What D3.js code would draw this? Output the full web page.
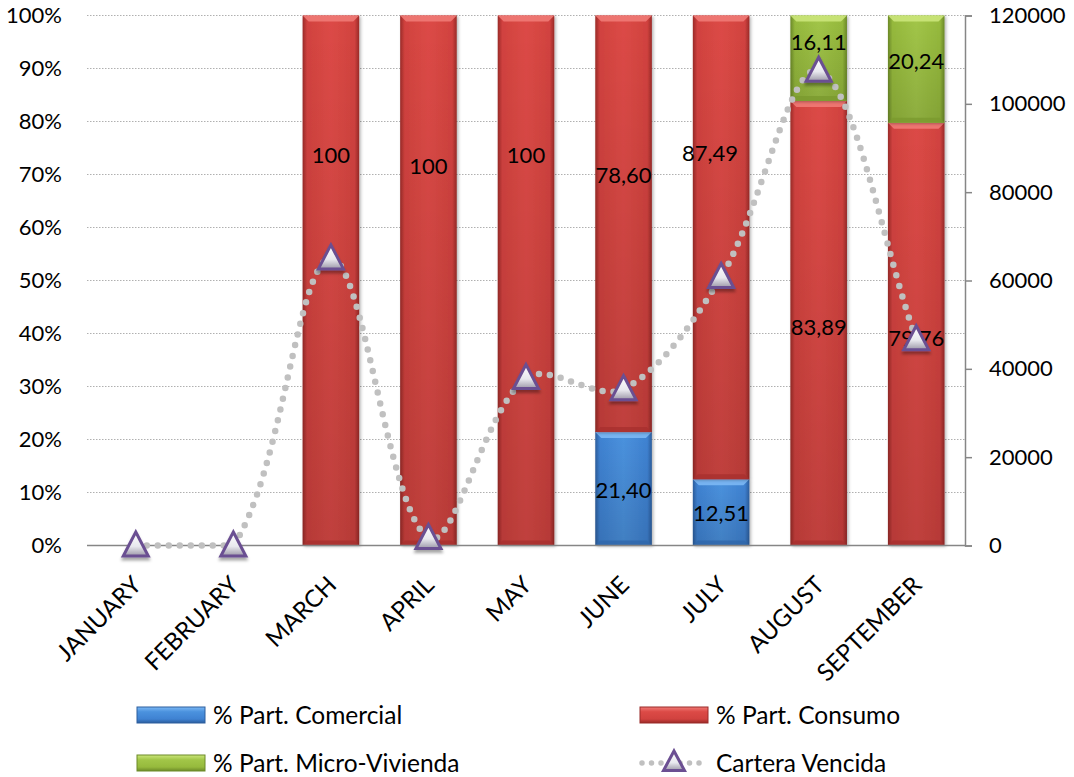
<!DOCTYPE html>
<html>
<head>
<meta charset="utf-8">
<script src="https://cdn.jsdelivr.net/npm/d3@7"></script>
<style>
  html, body { margin: 0; padding: 0; background: #fff; }
  svg { display: block; font-family: Lato, "Liberation Sans", sans-serif; }
</style>
</head>
<body>
<svg id="chart" width="1074" height="777"></svg>
<script>
// ---------- data ----------
const months = ["JANUARY", "FEBRUARY", "MARCH", "APRIL", "MAY", "JUNE", "JULY", "AUGUST", "SEPTEMBER"];
const comercial     = [0, 0, 0, 0, 0, 21.40, 12.51, 0, 0];
const consumo       = [0, 0, 100, 100, 100, 78.60, 87.49, 83.89, 79.76];
const microVivienda = [0, 0, 0, 0, 0, 0, 0, 16.11, 20.24];
const carteraVencida = [0, 0, 65000, 1700, 37900, 35400, 60800, 107500, 46700];
const leftTicks  = [0, 10, 20, 30, 40, 50, 60, 70, 80, 90, 100];
const rightTicks = [0, 20000, 40000, 60000, 80000, 100000, 120000];
const seriesNames = ["% Part. Comercial", "% Part. Consumo", "% Part. Micro-Vivienda", "Cartera Vencida"];

// label anchor heights (in % units) as placed in the original chart
const labelAtComercial = [0, 0, 0, 0, 0, 10.4, 6.1, 0, 0];
const labelAtConsumo   = [0, 0, 73.7, 71.6, 73.7, 69.9, 74.1, 41.2, 39.2];
const labelAtMicro     = [0, 0, 0, 0, 0, 0, 0, 95.0, 91.4];
const labelShiftConsumo = [0, 0, 0, 0, 0, 0, -11, 0, 0];

// ---------- setup ----------
const svg = d3.select("#chart");
const plot = { left: 87, right: 965, top: 15.5, bottom: 545.5 };

const x = d3.scaleBand().domain(months).range([plot.left, plot.right])
  .paddingInner(0.42).paddingOuter(0.21);
const y = d3.scaleLinear().domain([0, 100]).range([plot.bottom, plot.top]);
const y2 = d3.scaleLinear().domain([0, 120000]).range([plot.bottom, plot.top]);

const locale = d3.formatLocale({ decimal: ",", thousands: ".", grouping: [3], currency: ["", ""] });
const f2 = locale.format(".2f");
const fmt = v => Number.isInteger(v) ? String(v) : f2(v);

// ---------- defs ----------
const defs = svg.append("defs");
const palettes = {
  blue:  { edge: "#2c5e9e", base: "#3f82d2", mid: "#4b92de", top: "#7cb8f4", bot: "#2f66aa" },
  red:   { edge: "#9a2a28", base: "#d1423f", mid: "#dc4a46", top: "#f07a76", bot: "#a8302e" },
  green: { edge: "#6c8a28", base: "#96ba3d", mid: "#a2c648", top: "#cbe67a", bot: "#7b9a2e" }
};
Object.entries(palettes).forEach(([k, p]) => {
  const g = defs.append("linearGradient").attr("id", "grad-" + k)
    .attr("x1", 0).attr("x2", 1).attr("y1", 0).attr("y2", 0);
  [[0, p.edge], [0.08, p.base], [0.5, p.mid], [0.92, p.base], [1, p.edge]]
    .forEach(([o, c]) => g.append("stop").attr("offset", o).attr("stop-color", c));
});
const shade = defs.append("linearGradient").attr("id", "shade")
  .attr("x1", 0).attr("x2", 0).attr("y1", 0).attr("y2", 1);
shade.append("stop").attr("offset", 0).attr("stop-color", "#000").attr("stop-opacity", 0);
shade.append("stop").attr("offset", 1).attr("stop-color", "#000").attr("stop-opacity", 0.13);

const mg = defs.append("linearGradient").attr("id", "grad-marker")
  .attr("x1", 0).attr("x2", 0).attr("y1", 0).attr("y2", 1);
mg.append("stop").attr("offset", 0).attr("stop-color", "#ffffff");
mg.append("stop").attr("offset", 0.6).attr("stop-color", "#e8e8ee");
mg.append("stop").attr("offset", 1).attr("stop-color", "#9c98a8");
const sh = defs.append("filter").attr("id", "shadow").attr("x", "-50%").attr("y", "-50%")
  .attr("width", "200%").attr("height", "200%");
sh.append("feDropShadow").attr("dx", 0).attr("dy", 3).attr("stdDeviation", 1.8)
  .attr("flood-color", "#000").attr("flood-opacity", 0.35);
const bsh = defs.append("filter").attr("id", "barshadow").attr("x", "-20%").attr("y", "-5%")
  .attr("width", "140%").attr("height", "110%");
bsh.append("feDropShadow").attr("dx", 1.5).attr("dy", 1).attr("stdDeviation", 1.5)
  .attr("flood-color", "#000").attr("flood-opacity", 0.3);

// ---------- gridlines ----------
svg.append("g").selectAll("line").data(leftTicks.filter(t => t > 0)).join("line")
  .attr("x1", plot.left).attr("x2", plot.right)
  .attr("y1", d => y(d)).attr("y2", d => y(d))
  .attr("stroke", "#b0b0b0").attr("stroke-width", 1).attr("stroke-dasharray", "1.5,1.5");

// ---------- left axis ----------
const gl = svg.append("g").attr("transform", `translate(${plot.left},0)`)
  .call(d3.axisLeft(y).tickValues(leftTicks).tickFormat(d => d + "%").tickSize(0).tickPadding(25));
gl.select(".domain").remove();
gl.selectAll("text").attr("font-size", 22).attr("font-family", "Lato, sans-serif").attr("fill", "#000");

// ---------- right axis ----------
const gr = svg.append("g").attr("transform", `translate(${plot.right},0)`)
  .call(d3.axisRight(y2).tickValues(rightTicks).tickFormat(d3.format("d")).tickSize(7).tickPadding(17));
gr.select(".domain").attr("stroke", "#868686").attr("stroke-width", 1.5);
gr.selectAll(".tick line").attr("stroke", "#868686").attr("stroke-width", 1.5);
gr.selectAll("text").attr("font-size", 22).attr("font-family", "Lato, sans-serif").attr("fill", "#000");

// ---------- stacked bars ----------
const stackInput = months.map((m, i) => ({
  month: m, comercial: comercial[i], consumo: consumo[i], micro: microVivienda[i]
}));
const keys = ["comercial", "consumo", "micro"];
const colorKey = { comercial: "blue", consumo: "red", micro: "green" };
const stacked = d3.stack().keys(keys)(stackInput);

const bw = x.bandwidth();
const bars = svg.append("g");
stacked.forEach(layer => {
  const k = layer.key, p = palettes[colorKey[k]];
  const segs = layer.filter(d => d[1] - d[0] > 0);
  const g = bars.append("g");
  g.selectAll("rect.body").data(segs).join("rect")
    .attr("class", "body")
    .attr("x", d => x(d.data.month)).attr("width", bw)
    .attr("y", d => y(d[1])).attr("height", d => y(d[0]) - y(d[1]))
    .attr("fill", `url(#grad-${colorKey[k]})`)
    .attr("filter", "url(#barshadow)");
  g.selectAll("rect.shade").data(segs).join("rect")
    .attr("class", "shade")
    .attr("x", d => x(d.data.month)).attr("width", bw)
    .attr("y", d => y(d[1])).attr("height", d => y(d[0]) - y(d[1]))
    .attr("fill", "url(#shade)");
  // top bevel
  g.selectAll("path.bevel").data(segs).join("path")
    .attr("class", "bevel")
    .attr("d", d => {
      const x0 = x(d.data.month), x1 = x0 + bw, t = y(d[1]), b = 6;
      return `M${x0},${t}L${x1},${t}L${x1 - b},${t + b}L${x0 + b},${t + b}Z`;
    })
    .attr("fill", p.top).attr("opacity", 0.9);
  // bottom bevel
  g.selectAll("path.bbevel").data(segs).join("path")
    .attr("class", "bbevel")
    .attr("d", d => {
      const x0 = x(d.data.month), x1 = x0 + bw, bt = y(d[0]), b = 5;
      return `M${x0},${bt}L${x1},${bt}L${x1 - b},${bt - b}L${x0 + b},${bt - b}Z`;
    })
    .attr("fill", p.bot).attr("opacity", 0.8);
});

// ---------- x axis baseline & labels ----------
svg.append("line").attr("x1", plot.left).attr("x2", plot.right)
  .attr("y1", plot.bottom).attr("y2", plot.bottom)
  .attr("stroke", "#868686").attr("stroke-width", 1.5);

svg.append("g").selectAll("text").data(months).join("text")
  .attr("transform", d => `translate(${x(d) + bw / 2 + 7},${plot.bottom + 41}) rotate(-45)`)
  .attr("text-anchor", "end")
  .attr("font-size", 24).attr("fill", "#000")
  .text(d => d);

// ---------- data labels ----------
const labels = svg.append("g").attr("font-size", 22).attr("fill", "#000").attr("text-anchor", "middle");
function addLabels(vals, at, shift) {
  labels.selectAll(null).data(months.map((m, i) => ({ m, v: vals[i], a: at[i], s: shift ? shift[i] : 0 }))
      .filter(d => d.v > 0))
    .join("text")
    .attr("x", d => x(d.m) + bw / 2 + d.s)
    .attr("y", d => y(d.a))
    .attr("dy", "0.36em")
    .text(d => fmt(d.v));
}

// ---------- line (Cartera Vencida), spreadsheet-style smoothing ----------
const lineData = months.map((m, i) => ({ m, v: carteraVencida[i] }));
const pts = lineData.map(d => ({ x: x(d.m) + bw / 2, y: y2(d.v) }));
function smoothPath(p) {
  const dist = (a, b) => Math.hypot(b.x - a.x, b.y - a.y);
  let s = `M${p[0].x},${p[0].y}`;
  for (let i = 0; i < p.length - 1; i++) {
    const P0 = p[i - 1] || p[i], P1 = p[i], P2 = p[i + 1], P3 = p[i + 2] || p[i + 1];
    if (P1.y === P2.y) { s += `L${P2.x},${P2.y}`; continue; }
    const d01 = dist(P0, P1), d12 = dist(P1, P2), d23 = dist(P2, P3);
    const f1 = d12 / (d01 + d12) / 3, f2 = d12 / (d12 + d23) / 3;
    const c1 = { x: P1.x + (P2.x - P0.x) * f1, y: P1.y + (P2.y - P0.y) * f1 };
    const c2 = { x: P2.x - (P3.x - P1.x) * f2, y: P2.y - (P3.y - P1.y) * f2 };
    s += `C${c1.x},${c1.y} ${c2.x},${c2.y} ${P2.x},${P2.y}`;
  }
  return s;
}
svg.append("path")
  .attr("d", smoothPath(pts))
  .attr("fill", "none")
  .attr("stroke", "#c0c0c0")
  .attr("stroke-width", 6.5)
  .attr("stroke-linecap", "round")
  .attr("stroke-dasharray", "0,11");

addLabels(consumo, labelAtConsumo, labelShiftConsumo);
addLabels(comercial, labelAtComercial);
addLabels(microVivienda, labelAtMicro);

const tri = "M0,-13.5L12.5,10.5L-12.5,10.5Z";
svg.append("g").selectAll("path").data(lineData).join("path")
  .attr("transform", d => `translate(${x(d.m) + bw / 2},${y2(d.v)})`)
  .attr("d", tri)
  .attr("fill", "url(#grad-marker)")
  .attr("stroke", "#6b4f92")
  .attr("stroke-width", 3)
  .attr("filter", "url(#shadow)");

// ---------- legend ----------
const legend = svg.append("g").attr("font-size", 24.5).attr("fill", "#000");
const legendItems = [
  { name: seriesNames[0], kind: "bar", color: "blue",  lx: 137, ly: 715 },
  { name: seriesNames[1], kind: "bar", color: "red",   lx: 640, ly: 715 },
  { name: seriesNames[2], kind: "bar", color: "green", lx: 137, ly: 763 },
  { name: seriesNames[3], kind: "line",                lx: 640, ly: 763 }
];
legendItems.forEach(it => {
  const g = legend.append("g").attr("transform", `translate(${it.lx},${it.ly})`);
  if (it.kind === "bar") {
    const p = palettes[it.color];
    const lg = defs.append("linearGradient").attr("id", "lg-" + it.color)
      .attr("x1", 0).attr("x2", 0).attr("y1", 0).attr("y2", 1);
    [[0, p.top], [0.3, p.mid], [0.75, p.base], [1, p.edge]]
      .forEach(([o, c]) => lg.append("stop").attr("offset", o).attr("stop-color", c));
    g.append("rect").attr("x", 0).attr("y", -8).attr("width", 68).attr("height", 16)
      .attr("fill", `url(#lg-${it.color})`).attr("stroke", p.edge).attr("stroke-width", 1);
  } else {
    g.append("line").attr("x1", 2).attr("x2", 66).attr("y1", 0).attr("y2", 0)
      .attr("stroke", "#c0c0c0").attr("stroke-width", 5.5)
      .attr("stroke-linecap", "round").attr("stroke-dasharray", "0,9.5");
    g.append("path").attr("d", "M0,-11L10.5,8.5L-10.5,8.5Z").attr("transform", "translate(34,-1)")
      .attr("fill", "url(#grad-marker)").attr("stroke", "#6b4f92").attr("stroke-width", 3);
  }
  g.append("text").attr("x", 76).attr("y", 0).attr("dy", "0.36em").text(it.name);
});
</script>
</body>
</html>
